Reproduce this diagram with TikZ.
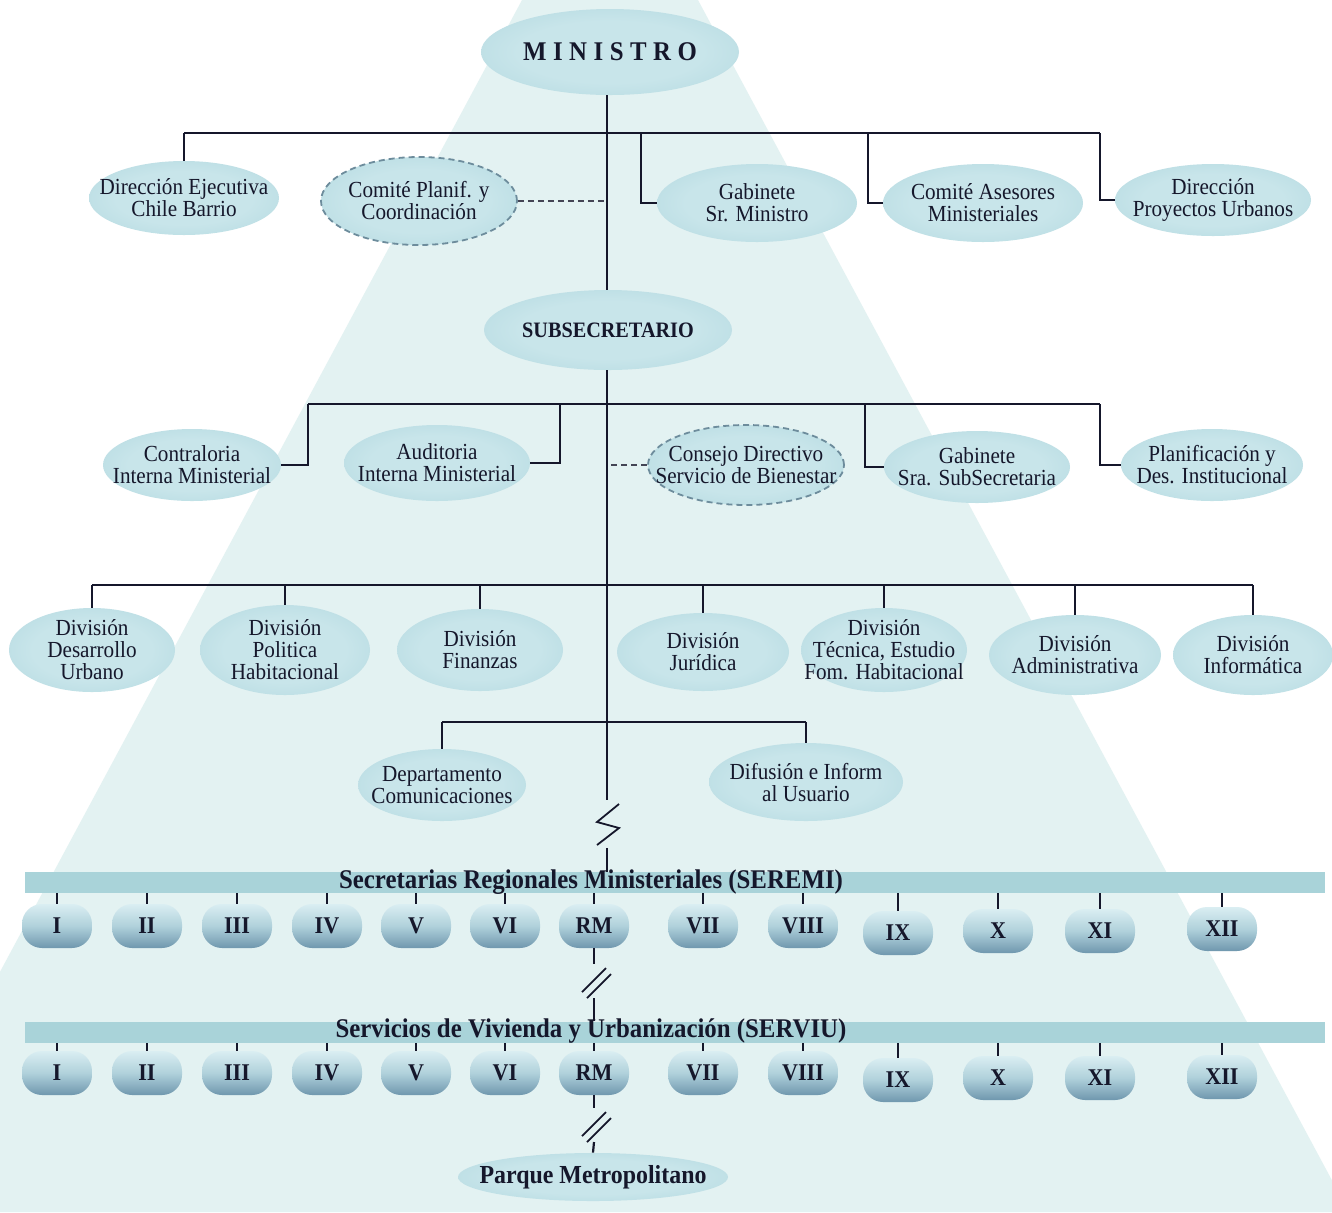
\documentclass[tikz,border=0pt]{standalone}
\usepackage{fontspec}
\setmainfont{Liberation Serif}[FakeStretch=0.92]
\usetikzlibrary{shapes.geometric,calc}

\definecolor{ink}{HTML}{15172B}
\definecolor{cone}{HTML}{E3F2F2}
\definecolor{ovin}{HTML}{C8E5EA}
\definecolor{ovmid}{HTML}{B5DAE1}
\definecolor{ovout}{HTML}{94C3CE}
\definecolor{barfill}{HTML}{A9D3D9}
\definecolor{dashc}{HTML}{6D8C9C}
\definecolor{blobtop}{HTML}{DAEEF2}
\definecolor{blobmid}{HTML}{B0D1DB}
\definecolor{blobbot}{HTML}{6F97AE}

\pgfdeclareradialshading{ovalshade}{\pgfpoint{0bp}{0bp}}{color(0bp)=(ovin); color(18bp)=(ovin); color(34bp)=(ovmid); color(50bp)=(ovout)}

\tikzset{
  oval/.style={ellipse, inner sep=0pt, shade, shading=ovalshade},
  sz/.style 2 args={minimum width=#1*0.5pt, minimum height=#2*0.5pt},
  dashoval/.style={oval, draw=dashc, line width=0.9pt, dash pattern=on 3pt off 2pt},
  lbl/.style={font=\fontsize{11.5}{11}\selectfont, align=center, text=ink, inner sep=0pt},
  headlbl/.style={font=\bfseries\fontsize{11}{12}\selectfont, text=ink, inner sep=0pt},
  link/.style={draw=ink, line width=1.1pt},
  barline/.style={draw=ink, line width=1.4pt},
  dashlink/.style={draw=ink!80, line width=1pt, dash pattern=on 3pt off 2pt},
  tick/.style={draw=ink, line width=0.9pt},
  breakmark/.style={draw=ink, line width=0.9pt},
  band/.style={rectangle, fill=barfill, inner sep=0pt, minimum width=650pt, minimum height=10.5pt},
  bandtxt/.style={font=\bfseries\fontsize{13.5}{14}\selectfont, text=ink, inner sep=0pt},
  blob/.style={rectangle, rounded corners=10pt, minimum width=35pt, minimum height=22pt,
    inner sep=0pt, top color=blobtop, bottom color=blobbot, middle color=blobmid,
    font=\bfseries\fontsize{12}{12}\selectfont, text=ink},
}

\begin{document}
\begin{tikzpicture}[x=0.5pt, y=-0.5pt]
  % canvas and the pale light cone behind the chart
  \useasboundingbox (0,0) rectangle (1332,1212);
  \fill[white] (0,0) rectangle (1332,1212);
  \begin{scope}
    \clip (0,0) rectangle (1332,1212);
    \fill[cone] (522,0) -- (698,0) -- (1349,1212) -- (-129,1212) -- cycle;
  \end{scope}

  % ---------- top level ----------
  \node[oval, sz={258}{86}, label={[headlbl, font=\bfseries\fontsize{13.5}{14}\selectfont\addfontfeatures{LetterSpace=24}]center:MINISTRO}] (min) at (610,52) {};

  \node[oval, sz={190}{74}, label={[lbl]center:{Dirección Ejecutiva\\Chile Barrio}}] (dej) at (184,198) {};
  \node[dashoval, sz={196}{88}, label={[lbl]center:{Comité Planif. y\\Coordinación}}] (cpc) at (419,201) {};
  \node[oval, sz={200}{78}, label={[lbl]center:{Gabinete\\Sr. Ministro}}] (gsm) at (757,203) {};
  \node[oval, sz={200}{78}, label={[lbl]center:{Comité Asesores\\Ministeriales}}] (cam) at (983,203) {};
  \node[oval, sz={196}{72}, label={[lbl]center:{Dirección\\Proyectos Urbanos}}] (dpu) at (1213,200) {};

  \node[oval, sz={248}{80}, label={[headlbl]center:SUBSECRETARIO}] (sub) at (608,330) {};

  % trunk
  \coordinate (trunk) at (607,0);
  \draw[link] (min.south -| trunk) -- (sub.north -| trunk);

  % ministerial bar
  \coordinate (barAL) at (184,133);
  \coordinate (barAR) at (1100,133);
  \coordinate (gsmUp) at (641,133);
  \coordinate (camUp) at (868,133);
  \draw[barline] (barAL) -- (barAR);
  \draw[link] (dej.north) -- (barAL);
  \draw[link] (gsm.west) -| (gsmUp);
  \draw[link] (cam.west) -| (camUp);
  \draw[link] (dpu.west) -| (barAR);
  \draw[dashlink] (cpc.east) -- (cpc.east -| trunk);

  % ---------- under-secretary level ----------
  \node[oval, sz={178}{72}, label={[lbl]center:{Contraloria\\Interna Ministerial}}] (cim) at (192,465) {};
  \node[oval, sz={186}{76}, label={[lbl]center:{Auditoria\\Interna Ministerial}}] (aim) at (437,463) {};
  \node[dashoval, sz={196}{80}, label={[lbl]center:{Consejo Directivo\\Servicio de Bienestar}}] (cdb) at (746,465) {};
  \node[oval, sz={186}{72}, label={[lbl]center:{Gabinete\\Sra. SubSecretaria}}] (gss) at (977,467) {};
  \node[oval, sz={182}{72}, label={[lbl]center:{Planificación y\\Des. Institucional}}] (pdi) at (1212,465) {};

  \coordinate (barBL) at (308,404);
  \coordinate (barBR) at (1100,404);
  \coordinate (aimUp) at (560,404);
  \coordinate (gssUp) at (865,404);
  \draw[barline] (barBL) -- (barBR);
  \draw[link] (cim.east) -| (barBL);
  \draw[link] (aim.east) -| (aimUp);
  \draw[link] (gss.west) -| (gssUp);
  \draw[link] (pdi.west) -| (barBR);
  \draw[dashlink] (cdb.west) -- (cdb.west -| trunk);

  % ---------- divisions ----------
  \node[oval, sz={166}{84}, label={[lbl]center:{División\\Desarrollo\\Urbano}}] (d1) at (92,650) {};
  \node[oval, sz={170}{90}, label={[lbl]center:{División\\Politica\\Habitacional}}] (d2) at (285,650) {};
  \node[oval, sz={166}{82}, label={[lbl]center:{División\\Finanzas}}] (d3) at (480,650) {};
  \node[oval, sz={172}{78}, label={[lbl]center:{División\\Jurídica}}] (d4) at (703,652) {};
  \node[oval, sz={166}{84}, label={[lbl]center:{División\\Técnica, Estudio\\Fom. Habitacional}}] (d5) at (884,650) {};
  \node[oval, sz={172}{80}, label={[lbl]center:{División\\Administrativa}}] (d6) at (1075,655) {};
  \node[oval, sz={160}{80}, label={[lbl]center:{División\\Informática}}] (d7) at (1253,655) {};

  \coordinate (divbar) at (0,585);
  \draw[barline] (d1.north |- divbar) -- (d7.north |- divbar);
  \foreach \k in {1,...,7} {
    \draw[link] (d\k.north) -- (d\k.north |- divbar);
  }

  % ---------- departments ----------
  \node[oval, sz={168}{72}, label={[lbl]center:{Departamento\\Comunicaciones}}] (dco) at (442,785) {};
  \node[oval, sz={194}{78}, label={[lbl]center:{Difusión e Inform\\al Usuario}}] (dus) at (806,782) {};
  \coordinate (depbar) at (0,722);
  \draw[barline] (dco.north |- depbar) -- (dus.north |- depbar);
  \draw[link] (dco.north) -- (dco.north |- depbar);
  \draw[link] (dus.north) -- (dus.north |- depbar);

  % ---------- regional secretariats ----------
  \node[band] (seremi) at (675,882.5) {};
  \node[bandtxt] (seremiT) at (591,882) {Secretarias Regionales Ministeriales (SEREMI)};

  \coordinate (brkA) at (607,800);
  \coordinate (brkB) at (607,848);
  \draw[link] (sub.south -| trunk) -- (brkA);
  \draw[breakmark] ($(brkA)+(12,4)$) -- ($(brkA)+(-10,22)$) -- ($(brkA)+(12,28)$) -- ($(brkA)+(-10,45)$);
  \draw[link] (brkB) -- (brkB |- seremi.north);

  \foreach \n/\x/\y [count=\k] in {I/57/926, II/147/926, III/237/926, IV/327/926, V/416/926, VI/505/926, RM/594/926, VII/703/926, VIII/803/926, IX/898/933, X/998/931, XI/1100/931, XII/1222/929} {
    \node[blob] (sa\k) at (\x,\y) {\n};
    \draw[tick] (sa\k.north) -- (sa\k.north |- seremi.south);
  }

  % ---------- housing services ----------
  \node[band] (serviu) at (675,1032) {};
  \node[bandtxt] (serviuT) at (591,1031) {Servicios de Vivienda y Urbanización (SERVIU)};

  \coordinate (brkC) at (594,964);
  \coordinate (brkD) at (594,998);
  \draw[link] (sa7.south) -- (brkC);
  \draw[breakmark] ($(brkC)+(-12,28)$) -- ($(brkC)+(12,4)$);
  \draw[breakmark] ($(brkC)+(-7,34)$) -- ($(brkC)+(17,10)$);
  \draw[link] (brkD) -- (brkD |- serviu.north);

  \foreach \n/\x/\y [count=\k] in {I/57/1073, II/147/1073, III/237/1073, IV/327/1073, V/416/1073, VI/505/1073, RM/594/1073, VII/703/1073, VIII/803/1073, IX/898/1080, X/998/1078, XI/1100/1078, XII/1222/1077} {
    \node[blob] (sb\k) at (\x,\y) {\n};
    \draw[tick] (sb\k.north) -- (sb\k.north |- serviu.south);
  }

  % ---------- metropolitan park ----------
  \node[oval, sz={270}{48}, label={[headlbl, font=\bfseries\fontsize{13}{13}\selectfont]center:Parque Metropolitano}] (pmt) at (593,1177) {};

  \coordinate (brkE) at (594,1108);
  \coordinate (brkF) at (594,1142);
  \draw[link] (sb7.south) -- (brkE);
  \draw[breakmark] ($(brkE)+(-12,28)$) -- ($(brkE)+(12,4)$);
  \draw[breakmark] ($(brkE)+(-7,34)$) -- ($(brkE)+(17,10)$);
  \draw[link] (brkF) -- (pmt.north);
\end{tikzpicture}
\end{document}
